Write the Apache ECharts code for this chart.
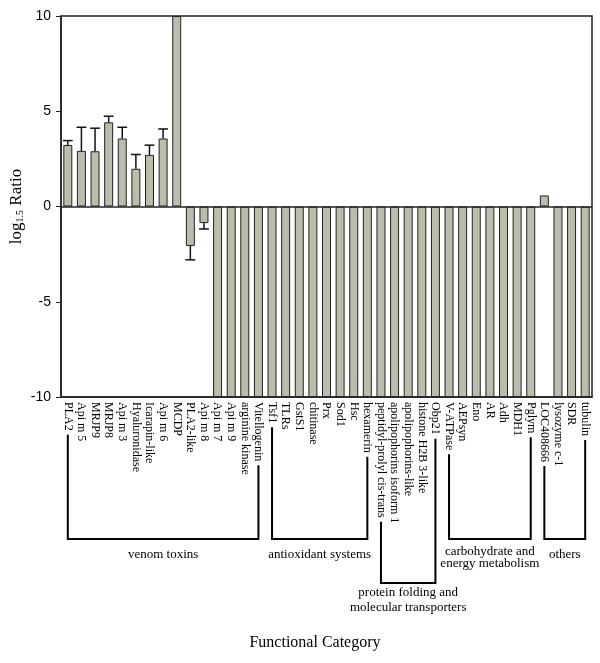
<!DOCTYPE html>
<html><head><meta charset="utf-8">
<script src="https://cdn.jsdelivr.net/npm/echarts@6/dist/echarts.min.js"></script>
<style>html,body{margin:0;padding:0;background:#fff}#c{width:600px;height:663px}</style>
</head><body><div id="c"></div>
<script>
const categories = ["PLA2","Api m 5","MRJP9","MRJP8","Api m 3","Hyaluronidase","Icarapin-like","Api m 6","MCDP","PLA2-like","Api m 8","Api m 7","Api m 9","arginine kinase","Vitellogenin","Tsf1","TLRs","GstS1","chitinase","Prx","Sod1","Hsc","hexamerin","peptidyl-prolyl cis-trans","apolipophorins isoform 1","apolipophorins-like","histone H2B 3-like","Obp21","V-ATPase","AEPsyn","Eno","AR","Adh","MDH1","Pglym","LOC408666","lysozyme c-1","SDR","tubulin"];
const values = [3.23,2.92,2.90,4.42,3.57,1.98,2.71,3.57,10,-2.07,-0.87,-10,-10,-10,-10,-10,-10,-10,-10,-10,-10,-10,-10,-10,-10,-10,-10,-10,-10,-10,-10,-10,-10,-10,-10,0.58,-10,-10,-10];
const errors = [0.23,1.24,1.21,0.32,0.59,0.75,0.51,0.50,0,0.73,0.31,0,0,0,0,0,0,0,0,0,0,0,0,0,0,0,0,0,0,0,0,0,0,0,0,0,0,0,0];
const groupNames = [["venom toxins"],["antioxidant systems"],["protein folding and","molecular transporters"],["carbohydrate and","energy metabolism"],["others"]];
const groupStart = [0,15,23,28,35];
const groupEnd = [14,22,27,34,38];
const yTicks = {min:-10,max:10,interval:5};
const xTitle = "Functional Category";

// layout (not data)
const groupBottom = [539,539,583,539,539];
const groupLabelY = [[555],[555],[593,608],[552,564],[555]];

const serif = '"Liberation Serif","Times New Roman",serif';
const sans = '"Liberation Sans",Arial,sans-serif';
const chart = echarts.init(document.getElementById('c'), null, {renderer:'canvas'});
const errData = [];
values.forEach((v,i)=>{ if(errors[i]>0) errData.push([i,v,errors[i]]); });

chart.setOption({
  animation:false,
  grid:{left:61,right:8,top:16,bottom:266,outerBoundsMode:'none',containLabel:false,show:true,borderColor:'#222',borderWidth:1.5,backgroundColor:'transparent'},
  xAxis:{type:'category',data:categories,
    axisLine:{show:true,onZero:false,lineStyle:{color:'#222',width:1.5}},
    axisTick:{alignWithLabel:true,length:4,lineStyle:{color:'#222',width:1}},
    axisLabel:{rotate:-90,interval:0,margin:5,fontFamily:serif,fontSize:12,color:'#000'}},
  yAxis:{type:'value',min:yTicks.min,max:yTicks.max,interval:yTicks.interval,
    splitLine:{show:false},
    axisLine:{show:true,lineStyle:{color:'#222',width:1.5}},
    axisTick:{show:true,length:5,lineStyle:{color:'#222',width:1}},
    axisLabel:{fontFamily:sans,fontSize:14,color:'#000',margin:10},
    name:'{a|log}{b|1.5}{a| Ratio}',nameLocation:'middle',nameRotate:90,nameGap:36,nameMoveOverlap:false,
    nameTextStyle:{rich:{
      a:{fontFamily:serif,fontSize:17,color:'#000',lineHeight:26,verticalAlign:'bottom'},
      b:{fontFamily:serif,fontSize:10,color:'#000',lineHeight:10,verticalAlign:'bottom'}
    }}},
  series:[
    {type:'bar',data:values,barWidth:'66%',
      itemStyle:{color:'#bcbcad',borderColor:'#222',borderWidth:1},
      markLine:{silent:true,symbol:'none',label:{show:false},
        lineStyle:{color:'#222',width:1.5,type:'solid'},data:[{yAxis:0}]}},
    {type:'custom',data:errData,z:3,
      renderItem:function(params,api){
        const i=api.value(0),v=api.value(1),e=api.value(2);
        const end=v+(v>=0?e:-e);
        const p0=api.coord([i,v]),p1=api.coord([i,end]);
        const hw=api.size([1,0])[0]*0.36;
        const st={stroke:'#111',lineWidth:1.5};
        return {type:'group',children:[
          {type:'line',shape:{x1:p0[0],y1:p0[1],x2:p1[0],y2:p1[1]},style:st},
          {type:'line',shape:{x1:p1[0]-hw,y1:p1[1],x2:p1[0]+hw,y2:p1[1]},style:st}
        ]};
      }}
  ]
});

const ctx=document.createElement('canvas').getContext('2d');
ctx.font='12px "Liberation Serif"';
const axisBottom=chart.convertToPixel({yAxisIndex:0},yTicks.min);
const g=[];
groupNames.forEach((names,k)=>{
  const xs=chart.convertToPixel({xAxisIndex:0},groupStart[k]);
  const xe=chart.convertToPixel({xAxisIndex:0},groupEnd[k]);
  const ys=axisBottom+5+ctx.measureText(categories[groupStart[k]]).width+4;
  const ye=axisBottom+5+ctx.measureText(categories[groupEnd[k]]).width+4;
  const yb=groupBottom[k];
  const st={stroke:'#000',lineWidth:2};
  g.push({type:'polyline',shape:{points:[[xs,ys],[xs,yb],[xe,yb],[xe,ye]]},style:Object.assign({fill:null},st)});
  names.forEach((t,j)=>{
    g.push({type:'text',x:(xs+xe)/2,y:groupLabelY[k][j],style:{text:t,fill:'#000',font:'13px '+serif,align:'center',verticalAlign:'middle'}});
  });
});
g.push({type:'text',x:315,y:643,style:{text:xTitle,fill:'#000',font:'16px '+serif,align:'center',verticalAlign:'middle'}});
chart.setOption({graphic:g});
</script></body></html>
